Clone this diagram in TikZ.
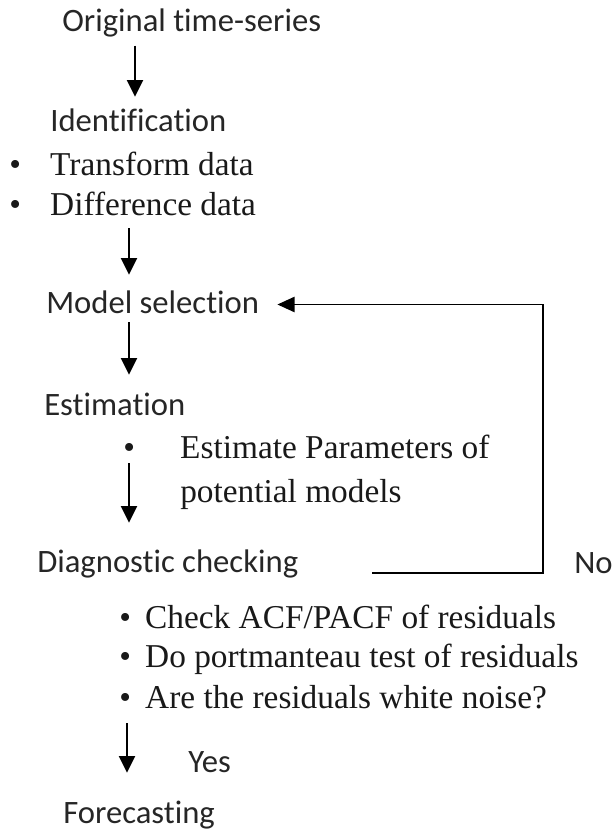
\documentclass[tikz,border=0pt]{standalone}
\usepackage{fontspec}
\setmainfont{Liberation Serif}
\newfontfamily\labsans[Ligatures=NoCommon]{Carlito}
\usetikzlibrary{arrows.meta}
\begin{document}
\begin{tikzpicture}[x=0.75pt,y=-0.75pt,
  lab/.style={anchor=base west,inner sep=0pt,text height=18.75pt,text depth=6pt,
    font=\labsans\fontsize{24.5}{28}\selectfont,text=black!85},
  item/.style={anchor=base west,inner sep=0pt,text height=18.75pt,text depth=6pt,
    font=\fontsize{25}{29}\selectfont,text=black!90},
  arr/.style={line width=1.6pt,-{Triangle[width=12pt,length=12.5pt]}},
  fb/.style={line width=1.4pt,-{Triangle[width=11.5pt,length=13pt]}}]
\useasboundingbox (0,0) rectangle (614,834);
% columns for the down arrows
\coordinate (colA) at (135,0);
\coordinate (colB) at (129,0);
\coordinate (colC) at (127,0);
% labels
\node[lab] (orig) at (62,32) {Original time-series};
\node[lab] (ident) at (50,132) {Identification};
\node[item] (tr) at (9,176) {\makebox[30.75pt][l]{•}Transform data};
\node[item] (diff) at (9,215) {\makebox[30.75pt][l]{•}Difference data};
\node[lab] (model) at (46,313) {Model selection};
\node[lab] (estim) at (44,415) {Estimation};
\node[item] (est1) at (123,458) {\makebox[42.75pt][l]{•}Estimate Parameters of};
\node[item] (est2) at (180,502) {potential models};
\node[lab] (diag) at (37,572) {Diagnostic checking};
\node[lab] (no) at (574,573) {No};
\node[item] (q1) at (119,628) {\makebox[19.5pt][l]{•}Check ACF/PACF of residuals};
\node[item] (q2) at (119,667) {\makebox[19.5pt][l]{•}Do portmanteau test of residuals};
\node[item] (q3) at (119,708) {\makebox[19.5pt][l]{•}Are the residuals white noise?};
\node[lab] (yes) at (188,772) {Yes};
\node[lab] (fore) at (63,823) {Forecasting};
% down arrows
\draw[arr,shorten <=4pt,shorten >=7.5pt] (orig.south -| colA) -- (ident.north -| colA);
\draw[arr,shorten <=3.75pt,shorten >=9.75pt] (diff.south -| colB) -- (model.north -| colB);
\draw[arr,shorten <=0.75pt,shorten >=11.25pt] (model.south -| colB) -- (estim.north -| colB);
\draw[arr,shorten <=-2.25pt,shorten >=18pt] (est1.south -| colB) -- (diag.north -| colB);
\draw[arr,shorten <=5.25pt,shorten >=18.75pt] (q3.south -| colC) -- (fore.north -| colC);
% feedback loop
\coordinate (fbstart) at (372,573);
\coordinate (fbcorner) at (543,573);
\draw[fb,shorten >=13.5pt] (fbstart) -- (fbcorner) |- (model.east);
\end{tikzpicture}
\end{document}
